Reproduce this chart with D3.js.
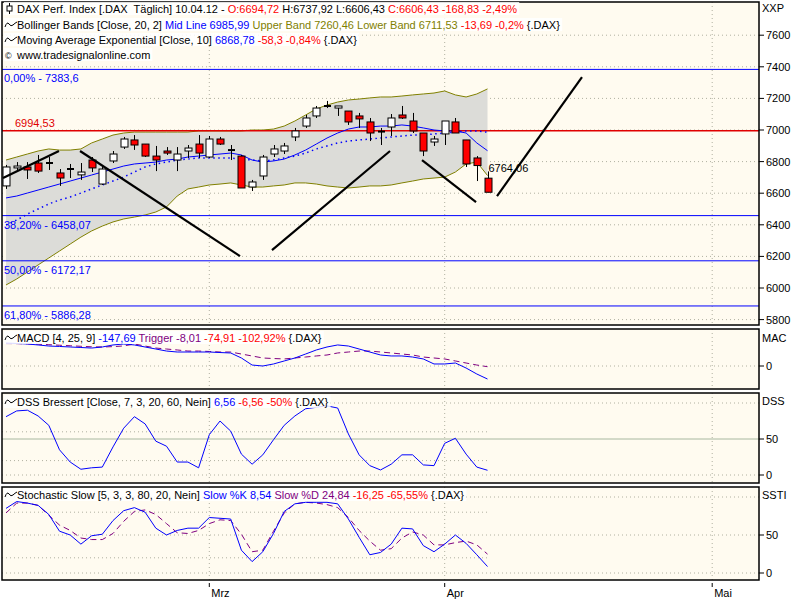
<!DOCTYPE html>
<html><head><meta charset="utf-8">
<script src="https://cdn.jsdelivr.net/npm/d3@7"></script>
<style>body{margin:0;background:#fff}text{font-family:"Liberation Sans",Arial,sans-serif;font-size:11px}</style>
</head><body><svg id="c" width="800" height="600"></svg>
<script>
// ---- data (candle index 0 = 02.02.2012 ... 45 = 10.04.2012)
const open_ =[6646,6760,6766,6791,6785,6728,6747,6716,6810,6658,6804,6892,6937,6911,6835,6867,6810,6867,6911,6829,6943,6867,6835,6639,6709,6848,6867,6956,7025,7089,7145,7139,7120,7089,7051,6990,7019,7095,7057,6981,6924,6975,7051,6937,6823,6695];
const close_=[6766,6772,6747,6740,6791,6696,6753,6734,6760,6753,6848,6943,6905,6835,6810,6854,6848,6886,6854,6943,6911,6873,6633,6671,6829,6880,6899,6994,7076,7139,7152,7152,7051,7070,6981,6984,7076,7076,6994,6867,6943,7057,6981,6785,6775,6606];
const high_ =[6779,6797,6797,6842,6829,6753,6785,6791,6829,6772,6867,6956,6968,6911,6899,6892,6892,6905,6968,6962,6956,6905,6842,6684,6842,6905,6918,7013,7095,7152,7184,7152,7120,7108,7076,7013,7101,7152,7108,6981,6962,7057,7076,6937,6835,6738];
const low_  =[6627,6740,6690,6728,6747,6646,6696,6684,6734,6652,6791,6880,6874,6829,6740,6842,6740,6823,6823,6823,6905,6810,6633,6614,6684,6829,6848,6930,7013,7076,7139,7089,7032,7013,6930,6905,6962,7070,6981,6835,6899,6905,6981,6766,6677,6606];
const bbUpper=[6810,6829,6848,6867,6880,6873,6873,6880,6918,6943,6968,6981,6987,6987,6987,6987,6987,6987,6994,6994,6994,6994,6994,7000,7000,7006,7025,7057,7095,7133,7158,7177,7190,7196,7203,7209,7209,7215,7222,7228,7234,7247,7222,7209,7228,7260];
const bbLower=[6019,6057,6101,6146,6190,6234,6278,6322,6361,6392,6418,6437,6449,6462,6481,6513,6582,6627,6639,6652,6658,6665,6652,6639,6639,6646,6652,6665,6665,6658,6646,6639,6633,6639,6646,6646,6652,6665,6677,6690,6696,6702,6734,6785,6797,6712];
const bbMid=[6399,6430,6468,6500,6532,6557,6576,6601,6627,6652,6677,6702,6734,6766,6785,6797,6810,6816,6823,6823,6823,6823,6816,6810,6804,6810,6823,6835,6854,6880,6899,6918,6930,6937,6943,6949,6956,6962,6968,6968,6975,6981,6987,6994,6994,6986];
const ema10=[6570,6582,6601,6620,6639,6658,6677,6696,6715,6734,6753,6772,6785,6791,6797,6810,6816,6829,6835,6842,6848,6854,6842,6810,6797,6804,6816,6842,6873,6911,6949,6981,7006,7019,7019,7025,7025,7032,7025,7013,7000,6994,6994,6981,6918,6869];
const macd=[261,256,250,239,227,222,216,210,204,216,239,250,239,216,193,170,159,159,159,159,153,148,91,11,0,23,57,91,136,182,216,239,227,193,159,125,114,114,102,80,23,23,34,-23,-91,-148];
const trigger=[255,254,252,248,242,236,230,224,218,216,220,228,250,227,204,193,182,170,170,165,159,159,136,114,91,85,80,91,102,114,125,148,159,170,170,159,148,136,125,102,91,80,57,34,11,-8];
const dss=[81,89,90,82,69,35,18,8,10,11,39,65,81,71,47,40,18,18,10,56,75,61,29,15,28,49,69,82,92,94,96,93,57,28,13,7,15,28,28,14,13,44,51,29,11,6.56];
const stochK=[85,94,92,89,77,55,50,38,49,51,69,82,86,80,59,50,56,59,59,73,72,71,30,15,28,52,81,91,93,93,93,91,71,47,24,27,38,59,58,36,28,38,50,39,24,8.5];
const stochD=[79,92,92,89,76,63,56,46,44,44,52,68,81,83,77,65,53,52,56,65,70,69,51,28,30,55,79,91,93,92,90,86,73,56,42,30,32,46,54,50,37,37,40,42,37,24.84];
// trend lines [index, price] pairs
const trendLines=[[[-0.28,6696],[4.95,6867]],[[6.92,6867],[21.87,6202]],[[24.86,6240],[35.89,6867]],[[38.88,6810],[43.93,6544]],[[45.89,6582],[53.83,7335]]];
const fibLevels=[{v:7383.6,t:"0,00% - 7383,6"},{v:6458.07,t:"38,20% - 6458,07"},{v:6172.17,t:"50,00% - 6172,17"},{v:5886.28,t:"61,80% - 5886,28"}];
const redLevel=6994.53;
const priceTicks=[7600,7400,7200,7000,6800,6600,6400,6200,6000,5800];
const dateTicks=[{i:19,t:"Mrz"},{i:41,t:"Apr"},{i:66,t:"Mai"}];
const prevClose=6764.06;

const svg=d3.select("#c");
const L=2,R=759;
const x=d3.scaleLinear().domain([0,45]).range([6,487.5]);
const panels=[{t:2,b:325},{t:329,b:389},{t:393,b:483},{t:487,b:580}];
const yP=d3.scaleLinear().domain([7000,7200]).range([130,98.4]);
const yM=d3.scaleLinear().domain([0,-147.69]).range([366,379]);
const yD=d3.scaleLinear().domain([0,100]).range([475,403]);
const yS=d3.scaleLinear().domain([0,100]).range([573,497]);
const cream="#fffbf0";
panels.forEach(p=>svg.append("rect").attr("x",L).attr("y",p.t).attr("width",R-L).attr("height",p.b-p.t).attr("fill",cream));
const dotted=(g,x1,x2,y)=>g.append("line").attr("x1",x1).attr("x2",x2).attr("y1",y).attr("y2",y).attr("stroke","#b0b0a0").attr("stroke-dasharray","1,3");
const g=svg.append("g");
svg.append("clipPath").attr("id","cm").append("rect").attr("x",L).attr("y",2).attr("width",R-L).attr("height",323);
dateTicks.forEach(d=>panels.forEach(p=>g.append("line").attr("x1",x(d.i)).attr("x2",x(d.i)).attr("y1",p.t).attr("y2",p.b).attr("stroke","#b0b0a0").attr("stroke-dasharray","1,3")));
priceTicks.forEach(v=>dotted(g,L,R,yP(v)));
dotted(g,L,R,yM(0));
[100,0].forEach(v=>dotted(g,L,R,yD(v)));
[60,20].forEach(v=>dotted(g,L,x(45),yD(v)));
g.append("line").attr("x1",L).attr("x2",R).attr("y1",yD(50)).attr("y2",yD(50)).attr("stroke","#a8b8a0");
[100,50,0].forEach(v=>dotted(g,L,R,yS(v)));
[80,20].forEach(v=>dotted(g,L,x(45),yS(v)));

const mg=svg.append("g").attr("clip-path","url(#cm)");
const idx=d3.range(46);
mg.append("path").datum(idx).attr("fill","#dcdcd8").attr("d",d3.area().x(i=>x(i)).y0(i=>yP(bbLower[i])).y1(i=>yP(bbUpper[i])));
[bbUpper,bbLower].forEach(a=>mg.append("path").datum(idx).attr("fill","none").attr("stroke","#808000").attr("d",d3.line().x(i=>x(i)).y(i=>yP(a[i]))));
fibLevels.forEach(f=>{mg.append("line").attr("x1",L).attr("x2",R).attr("y1",yP(f.v)).attr("y2",yP(f.v)).attr("stroke","#0000ff");
 mg.append("text").attr("x",4).attr("y",yP(f.v)+13).attr("fill","#0000ff").text(f.t);});
mg.append("line").attr("x1",L).attr("x2",R).attr("y1",yP(redLevel)).attr("y2",yP(redLevel)).attr("stroke","#e00000").attr("stroke-width",1.5);
mg.append("text").attr("x",15).attr("y",yP(redLevel)-4).attr("fill","#e00000").text("6994,53");
mg.append("path").datum(idx).attr("fill","none").attr("stroke","#0000ff").attr("stroke-dasharray","1.5,3.5").attr("stroke-width",1.5).attr("d",d3.line().x(i=>x(i)).y(i=>yP(bbMid[i])));
mg.append("path").datum(idx).attr("fill","none").attr("stroke","#0000ff").attr("d",d3.line().x(i=>x(i)).y(i=>yP(ema10[i])));
idx.forEach(i=>{
 const cx=Math.round(x(i))+0.5;
 mg.append("line").attr("x1",cx).attr("x2",cx).attr("y1",yP(high_[i])).attr("y2",yP(low_[i])).attr("stroke","#000");
 const t=yP(Math.max(open_[i],close_[i])),b=yP(Math.min(open_[i],close_[i]));
 const h=Math.max(b-t,1);
 if(h<=1.5) mg.append("line").attr("x1",cx-3.5).attr("x2",cx+3.5).attr("y1",t).attr("y2",t).attr("stroke","#000").attr("stroke-width",2);
 else mg.append("rect").attr("x",cx-3.5).attr("y",t).attr("width",7).attr("height",h).attr("fill",close_[i]>=open_[i]?"#fff":"#ff0000").attr("stroke","#000");
});
trendLines.forEach(l=>mg.append("line").attr("x1",x(l[0][0])).attr("y1",yP(l[0][1])).attr("x2",x(l[1][0])).attr("y2",yP(l[1][1])).attr("stroke","#000").attr("stroke-width",2.2));
mg.append("text").attr("x",x(45)+1).attr("y",yP(prevClose)+5).text("6764,06");

const ln=(arr,ys,col,dash)=>{const p=g.append("path").datum(idx).attr("fill","none").attr("stroke",col).attr("d",d3.line().x(i=>x(i)).y(i=>ys(arr[i])));if(dash)p.attr("stroke-dasharray",dash);};
ln(trigger,yM,"#800080","6,4");ln(macd,yM,"#0000ff");
ln(dss,yD,"#0000ff");
ln(stochD,yS,"#800080","6,4");ln(stochK,yS,"#0000ff");

panels.forEach(p=>svg.append("rect").attr("x",L).attr("y",p.t).attr("width",R-L).attr("height",p.b-p.t).attr("fill","none").attr("stroke","#000").attr("stroke-width",1.5));

const ax=(ys,vals)=>vals.forEach(v=>{svg.append("line").attr("x1",R).attr("x2",R+5).attr("y1",ys(v)).attr("y2",ys(v)).attr("stroke","#000");
 svg.append("text").attr("x",R+7).attr("y",ys(v)+4).text(v);});
ax(yP,priceTicks);ax(yM,[0]);ax(yD,[50,0]);ax(yS,[50,0]);
[["XXP",12],["MAC",342],["DSS",405],["SSTI",499]].forEach(d=>svg.append("text").attr("x",R+3).attr("y",d[1]).text(d[0]));
dateTicks.forEach(d=>{svg.append("line").attr("x1",x(d.i)).attr("x2",x(d.i)).attr("y1",583).attr("y2",587).attr("stroke","#000");
 svg.append("text").attr("x",x(d.i)+2).attr("y",597).text(d.t);});

const lg=svg.append("g");
const legend=(y,parts,icon)=>{const grp=lg.append("g");const bg=grp.append("rect");
 const tx=grp.append("text").attr("x",17).attr("y",y).attr("xml:space","preserve").style("white-space","pre");
 parts.forEach(p=>tx.append("tspan").attr("fill",p[1]||"#000").text(p[0]));
 const bb=tx.node().getBBox();
 bg.attr("x",4).attr("y",bb.y-1).attr("width",bb.x+bb.width-2).attr("height",bb.height+1).attr("fill","#fff").attr("opacity",0.85);
 if(icon==="c"){grp.append("line").attr("x1",9.5).attr("x2",9.5).attr("y1",y-10).attr("y2",y+1).attr("stroke","#000");grp.append("rect").attr("x",7).attr("y",y-7).attr("width",5).attr("height",5).attr("fill","#fff").attr("stroke","#000");}
 else if(icon==="w")grp.append("path").attr("d",`M5,${y-2} q2,-6 4,-3 t4,1 t4,-3`).attr("fill","none").attr("stroke","#000");
 else grp.append("text").attr("x",5).attr("y",y).style("font-size","9px").text("©");};
const B="#0000ff",Rd="#ff0000",O="#808000",P="#800080";
legend(13,[["DAX Perf. Index [.DAX  Täglich] 10.04.12 - "],["O:6694,72",Rd],[" H:6737,92 L:6606,43 "],["C:6606,43 -168,83 -2,49%",Rd]],"c");
legend(29,[["Bollinger Bands [Close, 20, 2] "],["Mid Line 6985,99",B],[" Upper Band 7260,46 Lower Band 6711,53",O],[" -13,69 -0,2%",Rd],[" {.DAX}"]],"w");
legend(44,[["Moving Average Exponential [Close, 10] "],["6868,78",B],[" -58,3 -0,84%",Rd],[" {.DAX}"]],"w");
legend(59,[["www.tradesignalonline.com"]],"cr");
legend(342,[["MACD [4, 25, 9] "],["-147,69",B],[" Trigger -8,01",P],[" -74,91 -102,92%",Rd],[" {.DAX}"]],"w");
legend(406,[["DSS Bressert [Close, 7, 3, 20, 60, Nein] "],["6,56",B],[" -6,56 -50%",Rd],[" {.DAX}"]],"w");
legend(499,[["Stochastic Slow [5, 3, 3, 80, 20, Nein] "],["Slow %K 8,54",B],[" Slow %D 24,84",P],[" -16,25 -65,55%",Rd],[" {.DAX}"]],"w");
</script></body></html>
